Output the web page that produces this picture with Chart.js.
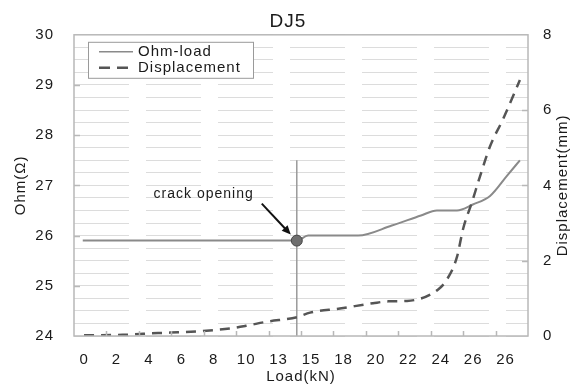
<!DOCTYPE html>
<html>
<head>
<meta charset="utf-8">
<script src="https://cdn.jsdelivr.net/npm/chart.js@4.4.1/dist/chart.umd.min.js"></script>
<style>
    html, body { margin: 0; padding: 0; background: #fff; }
</style>
</head>
<body>
<canvas id="chart" width="576" height="388"></canvas>
<script>
// x axis labels (one per category slot)
const loadLabels = ['0', '2', '4', '6', '8', '10', '13', '15', '18', '20', '22', '24', '26', '26'];

// Ohm-load curve, x in category slots
const ohmX = [-0.23, 6.37, 6.72, 8.26, 9.3, 10.2, 10.69, 11.31, 11.8, 12.33, 12.85, 13.25];
const ohmY = [25.9, 25.9, 26.0, 26.0, 26.2, 26.4, 26.5, 26.5, 26.62, 26.79, 27.19, 27.5];

// Displacement curve (right axis, mm)
const dispX = [-0.19, 1.0, 1.63, 2.46, 3.39, 4.3, 4.8, 5.45, 6.38, 6.78, 7.7, 8.72, 9.2, 9.77, 10.72, 11.0, 11.31, 11.5, 11.77, 12.02, 12.33, 12.73, 13.25];
const dispY = [0.02, 0.03, 0.06, 0.09, 0.13, 0.2, 0.27, 0.38, 0.5, 0.62, 0.73, 0.87, 0.92, 0.93, 1.23, 1.5, 2.1, 2.85, 3.55, 4.24, 5.04, 5.76, 6.8];

// crack opening point and its vertical marker line
const crackX = 6.37;
const crackY = 25.9;
const crackLineY = [24, 27.5];

const textColor = '#1a1a1a';
const fontFamily = '"Liberation Sans", Arial, sans-serif';

const toPoints = (xs, ys) => xs.map((x, i) => ({ x: x, y: ys[i] }));

// border, inward ticks, legend box, crack label, right axis title
const decor = {
    id: 'decor',
    beforeDraw(chart) {
        chart.ctx.letterSpacing = '1px';
    },
    afterDraw(chart) {
        const { ctx, chartArea: a, scales: { x, y, y2 } } = chart;
        ctx.save();
        ctx.letterSpacing = '1px';

        // plot frame
        ctx.strokeStyle = '#b8b8b8';
        ctx.lineWidth = 1.5;
        ctx.strokeRect(a.left, a.top, a.right - a.left, a.bottom - a.top);

        // inward tick marks
        ctx.beginPath();
        for (let i = 1; i < loadLabels.length; i++) {
            const px = Math.round(x.getPixelForValue(i - 0.5)) + 0.5;
            ctx.moveTo(px, a.bottom);
            ctx.lineTo(px, a.bottom - 5);
        }
        for (let v = 25; v < 30; v++) {
            const py = Math.round(y.getPixelForValue(v)) + 0.5;
            ctx.moveTo(a.left, py);
            ctx.lineTo(a.left + 6, py);
        }
        for (let v = 2; v < 8; v += 2) {
            const py = Math.round(y2.getPixelForValue(v)) + 0.5;
            ctx.moveTo(a.right, py);
            ctx.lineTo(a.right - 6, py);
        }
        ctx.stroke();

        // legend box
        const lx = a.left + 14, ly = a.top + 7;
        ctx.fillStyle = '#fff';
        ctx.fillRect(lx, ly, 165, 36);
        ctx.strokeStyle = '#9a9a9a';
        ctx.lineWidth = 1;
        ctx.strokeRect(lx + 0.5, ly + 0.5, 165, 36);

        ctx.lineWidth = 1.5;
        ctx.strokeStyle = '#8a8a8a';
        ctx.beginPath();
        ctx.moveTo(lx + 11, ly + 10);
        ctx.lineTo(lx + 45, ly + 10);
        ctx.stroke();

        ctx.lineWidth = 2.5;
        ctx.strokeStyle = '#555';
        ctx.setLineDash([11, 7]);
        ctx.beginPath();
        ctx.moveTo(lx + 11, ly + 26);
        ctx.lineTo(lx + 45, ly + 26);
        ctx.stroke();
        ctx.setLineDash([]);

        ctx.fillStyle = textColor;
        ctx.font = '15px ' + fontFamily;
        ctx.textBaseline = 'middle';
        ctx.textAlign = 'left';
        ctx.fillText('Ohm-load', lx + 50, ly + 10);
        ctx.fillText('Displacement', lx + 50, ly + 26);

        // crack opening label with arrow
        const mx = x.getPixelForValue(crackX);
        const my = y.getPixelForValue(crackY);
        ctx.font = '14px ' + fontFamily;
        ctx.textAlign = 'right';
        ctx.fillText('crack opening', mx - 43, my - 46);

        const sx = mx - 35, sy = my - 37, ex = mx - 6, ey = my - 6;
        const ang = Math.atan2(ey - sy, ex - sx);
        ctx.strokeStyle = '#111';
        ctx.lineWidth = 2;
        ctx.beginPath();
        ctx.moveTo(sx, sy);
        ctx.lineTo(ex - 6 * Math.cos(ang), ey - 6 * Math.sin(ang));
        ctx.stroke();
        ctx.fillStyle = '#111';
        ctx.beginPath();
        ctx.moveTo(ex, ey);
        ctx.lineTo(ex - 9 * Math.cos(ang) + 4 * Math.sin(ang), ey - 9 * Math.sin(ang) - 4 * Math.cos(ang));
        ctx.lineTo(ex - 9 * Math.cos(ang) - 4 * Math.sin(ang), ey - 9 * Math.sin(ang) + 4 * Math.cos(ang));
        ctx.closePath();
        ctx.fill();

        // right axis title, reading bottom to top
        ctx.save();
        ctx.translate(chart.width - 13, (a.top + a.bottom) / 2);
        ctx.rotate(-Math.PI / 2);
        ctx.textAlign = 'center';
        ctx.font = '15px ' + fontFamily;
        ctx.fillStyle = textColor;
        ctx.fillText('Displacement(mm)', 0, 0);
        ctx.restore();

        ctx.restore();
    }
};

const ctx = document.getElementById('chart').getContext('2d');
new Chart(ctx, {
    type: 'line',
    data: {
        datasets: [
            {
                label: 'crack',
                data: [{ x: crackX, y: crackY }],
                showLine: false,
                pointRadius: 5.5,
                pointBackgroundColor: '#6e6e6e',
                pointBorderColor: '#444',
                pointBorderWidth: 1,
                yAxisID: 'y'
            },
            {
                label: 'Displacement',
                data: toPoints(dispX, dispY),
                borderColor: '#555',
                borderWidth: 2.5,
                borderDash: [10, 7],
                pointRadius: 0,
                cubicInterpolationMode: 'monotone',
                yAxisID: 'y2'
            },
            {
                label: 'Ohm-load',
                data: toPoints(ohmX, ohmY),
                borderColor: '#8a8a8a',
                borderWidth: 2,
                pointRadius: 0,
                cubicInterpolationMode: 'monotone',
                yAxisID: 'y'
            },
            {
                label: 'crack line',
                data: crackLineY.map(v => ({ x: crackX, y: v })),
                borderColor: '#9a9a9a',
                borderWidth: 1.5,
                pointRadius: 0,
                yAxisID: 'y'
            }
        ]
    },
    options: {
        responsive: false,
        animation: false,
        layout: { padding: 0 },
        plugins: {
            legend: { display: false },
            tooltip: { enabled: false },
            title: {
                display: true,
                text: 'DJ5',
                color: textColor,
                font: { family: fontFamily, size: 19, weight: 'normal' },
                padding: { top: 10, bottom: 2 }
            }
        },
        scales: {
            x: {
                type: 'linear',
                min: -0.5,
                max: 13.5,
                // labels sit a little left of the slot centres, as in the source
                afterBuildTicks: s => { s.ticks = loadLabels.map((_, i) => ({ value: i - 0.19 })); },
                afterFit: s => { s.height = 52; },
                ticks: {
                    autoSkip: false,
                    maxRotation: 0,
                    padding: 15,
                    color: textColor,
                    font: { family: fontFamily, size: 15 },
                    callback: (v, i) => loadLabels[i]
                },
                grid: { display: false, drawTicks: false },
                border: { display: false },
                title: {
                    display: true,
                    text: 'Load(kN)',
                    color: textColor,
                    font: { family: fontFamily, size: 15 },
                    padding: { top: 0, bottom: 2 }
                }
            },
            y: {
                position: 'left',
                min: 24,
                max: 30,
                afterFit: s => { s.width = 74; },
                ticks: {
                    stepSize: 0.25,
                    autoSkip: false,
                    padding: 20,
                    color: textColor,
                    font: { family: fontFamily, size: 15 },
                    callback: v => Math.abs(v - Math.round(v)) < 1e-6 ? Math.round(v) : ''
                },
                grid: { color: '#dcdcdc', lineWidth: 1, drawTicks: false },
                border: { display: false, dash: [55, 17] },
                title: {
                    display: true,
                    text: 'Ohm(Ω)',
                    color: textColor,
                    font: { family: fontFamily, size: 15 },
                    padding: { top: 12, bottom: 0 }
                }
            },
            y2: {
                position: 'right',
                min: 0,
                max: 8,
                afterFit: s => { s.width = 48; },
                ticks: {
                    stepSize: 2,
                    padding: 15,
                    color: textColor,
                    font: { family: fontFamily, size: 15 }
                },
                grid: { drawOnChartArea: false, drawTicks: false },
                border: { display: false }
            }
        }
    },
    plugins: [decor]
});
</script>
</body>
</html>
